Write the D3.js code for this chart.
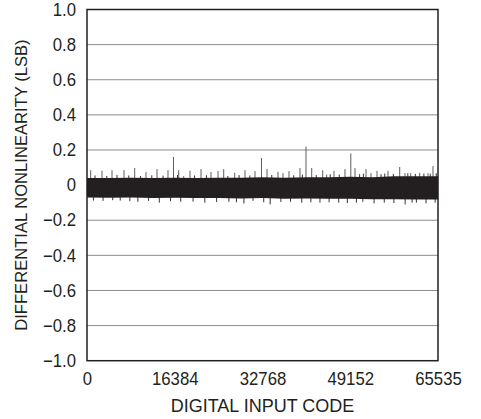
<!DOCTYPE html>
<html>
<head>
<meta charset="utf-8">
<script src="https://cdn.jsdelivr.net/npm/d3@7"></script>
<style>
  body { margin: 0; background: #fff; }
  text { font-family: "Liberation Sans", Arial, sans-serif; fill: #231f20; }
</style>
</head>
<body>
<svg id="chart" width="481" height="419"></svg>
<script>
// tick labels
const xTicks = [0, 16384, 32768, 49152, 65535];
const yTicks = [-1.0, -0.8, -0.6, -0.4, -0.2, 0, 0.2, 0.4, 0.6, 0.8, 1.0];

// solid band envelope (code, LSB)
const bandCodes = [0, 4096, 8192, 12288, 16384, 20480, 24576, 28672, 32768, 36864, 40960, 45056, 49152, 53248, 57344, 61440, 65535];
const bandUpper = [0.040, 0.040, 0.042, 0.040, 0.042, 0.040, 0.042, 0.042, 0.045, 0.042, 0.045, 0.045, 0.048, 0.045, 0.050, 0.050, 0.050];
const bandLower = [-0.070, -0.072, -0.070, -0.074, -0.072, -0.074, -0.074, -0.076, -0.074, -0.078, -0.076, -0.078, -0.078, -0.080, -0.080, -0.082, -0.082];

// positive spikes
const spikeCodes = [691, 2800, 4668, 6908, 8906, 11016, 13070, 15123, 16150, 17121, 18055, 19231, 21285, 23152, 24459, 25523, 27577, 29500, 31367, 32581, 33607, 35661, 36595, 37715, 39769, 40889, 41953, 44007, 44754, 46117, 48171, 49254, 50038, 52092, 53025, 54146, 56200, 58384, 59373, 60438, 62118, 63667, 64601];
const spikeValues = [0.085, 0.082, 0.085, 0.085, 0.097, 0.074, 0.091, 0.085, 0.160, 0.085, 0.051, 0.082, 0.091, 0.075, 0.080, 0.091, 0.070, 0.085, 0.080, 0.154, 0.091, 0.075, 0.068, 0.080, 0.097, 0.219, 0.097, 0.085, 0.060, 0.081, 0.091, 0.180, 0.097, 0.091, 0.068, 0.081, 0.081, 0.103, 0.068, 0.068, 0.070, 0.068, 0.108];

// small bumps just above the band
const bumpCodes = [1500, 3700, 5600, 7800, 10000, 12100, 14200, 16900, 20100, 22300, 26300, 28400, 30400, 34500, 38600, 40200, 42800, 45400, 47100, 50900, 51600, 54900, 55600, 57200, 59900, 61300, 62900, 64100, 65200];
const bumpValues = [0.055, 0.052, 0.058, 0.055, 0.052, 0.056, 0.054, 0.058, 0.055, 0.056, 0.052, 0.057, 0.055, 0.058, 0.056, 0.060, 0.057, 0.062, 0.060, 0.062, 0.065, 0.062, 0.066, 0.064, 0.068, 0.064, 0.066, 0.065, 0.068];

// negative whiskers below the band
const dipCodes = [1200, 3000, 4800, 6200, 8000, 9500, 11500, 13500, 15600, 17500, 19800, 22000, 24200, 26500, 27900, 29300, 31000, 33000, 34200, 36200, 38000, 40100, 41800, 43500, 45200, 47000, 48600, 50300, 51500, 53600, 55500, 57300, 59400, 60700, 61500, 63300, 65000];
const dipValues = [-0.088, -0.090, -0.086, -0.088, -0.092, -0.095, -0.090, -0.100, -0.092, -0.095, -0.094, -0.100, -0.096, -0.095, -0.098, -0.105, -0.090, -0.098, -0.110, -0.096, -0.095, -0.100, -0.098, -0.100, -0.098, -0.100, -0.102, -0.100, -0.095, -0.104, -0.100, -0.102, -0.110, -0.100, -0.100, -0.104, -0.100];

const svg = d3.select("#chart");
const plotLeft = 87, plotRight = 438, plotTop = 9.5, plotBottom = 360.7;
const squeeze = 0.93;

const x = d3.scaleLinear().domain([0, 65535]).range([plotLeft, plotRight]);
const y = d3.scaleLinear().domain([-1, 1]).range([plotBottom, plotTop]);

// gridlines
svg.append("g")
  .selectAll("line")
  .data(yTicks.filter(d => d > -1 && d < 1))
  .enter()
  .append("line")
    .attr("x1", plotLeft).attr("x2", plotRight)
    .attr("y1", d => y(d)).attr("y2", d => y(d))
    .attr("stroke", "#8c8c8c")
    .attr("stroke-width", 1);

function vlines(codes, values, colour) {
  svg.append("g")
    .selectAll("line")
    .data(codes.map((c, i) => ({ c: c, v: values[i] })))
    .enter()
    .append("line")
      .attr("x1", d => x(d.c)).attr("x2", d => x(d.c))
      .attr("y1", y(0)).attr("y2", d => y(d.v))
      .attr("stroke", colour)
      .attr("stroke-width", 1);
}

vlines(spikeCodes, spikeValues, "#5e5e5e");
vlines(bumpCodes, bumpValues, "#333");
vlines(dipCodes, dipValues, "#333");

// band
const band = bandCodes.map((c, i) => ({ c: c, hi: bandUpper[i], lo: bandLower[i] }));
svg.append("path")
  .datum(band)
  .attr("fill", "#231f20")
  .attr("d", d3.area()
    .x(d => x(d.c))
    .y0(d => y(d.lo))
    .y1(d => y(d.hi)));

// frame
svg.append("rect")
  .attr("x", plotLeft).attr("y", plotTop)
  .attr("width", plotRight - plotLeft).attr("height", plotBottom - plotTop)
  .attr("fill", "none")
  .attr("stroke", "#231f20")
  .attr("stroke-width", 1.5);

// axes (labels only)
const yAxis = svg.append("g")
  .attr("transform", "translate(" + plotLeft + ",0)")
  .call(d3.axisLeft(y).tickValues(yTicks).tickSize(0).tickPadding(11)
    .tickFormat(d => d === 0 ? "0" : d3.format(".1f")(d).replace("-", "\u2212")));
yAxis.select(".domain").remove();
yAxis.selectAll("text")
  .attr("font-family", null)
  .style("font-size", "18px")
  .attr("x", -11 / squeeze)
  .attr("transform", "scale(" + squeeze + ",1)");

const xAxis = svg.append("g")
  .attr("transform", "translate(0," + plotBottom + ")")
  .call(d3.axisBottom(x).tickValues(xTicks).tickSize(0).tickPadding(12)
    .tickFormat(d3.format("d")));
xAxis.select(".domain").remove();
xAxis.selectAll("text")
  .attr("font-family", null)
  .style("font-size", "18px")
  .attr("transform", "scale(" + squeeze + ",1)");

// titles
svg.append("text")
  .attr("x", (plotLeft + plotRight) / 2)
  .attr("y", 412)
  .attr("text-anchor", "middle")
  .style("font-size", "18px")
  .text("DIGITAL INPUT CODE");

svg.append("text")
  .attr("transform", "translate(27," + ((plotTop + plotBottom) / 2) + ") rotate(-90)")
  .attr("text-anchor", "middle")
  .style("font-size", "16.6px")
  .text("DIFFERENTIAL NONLINEARITY (LSB)");
</script>
</body>
</html>
